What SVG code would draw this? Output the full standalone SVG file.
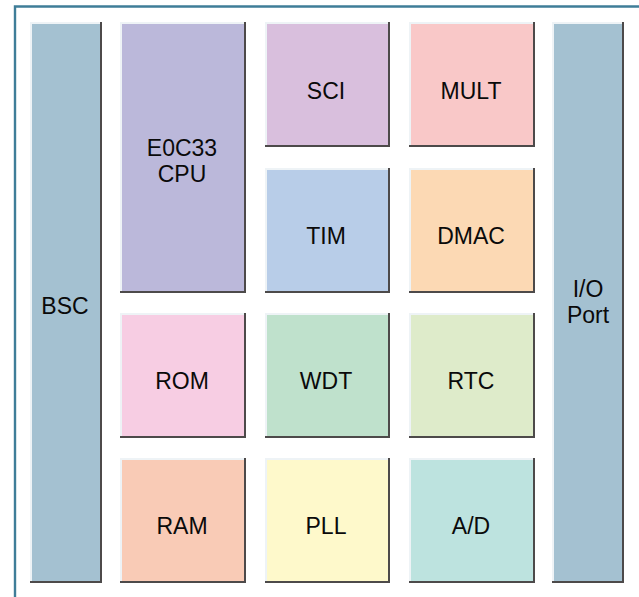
<svg xmlns="http://www.w3.org/2000/svg" width="639" height="597" viewBox="0 0 639 597">
<style>
.t{font-family:"Liberation Sans",Arial,sans-serif;font-size:23px;fill:#0a0a0a;text-anchor:middle}
.hi{fill:none;stroke:#eef3f6;stroke-width:2}
.lo{fill:none;stroke:#4d4a4a;stroke-width:2}
</style>
<rect width="639" height="597" fill="#ffffff"/>
<path d="M15 610 V6.5 H650" fill="none" stroke="#3f7d98" stroke-width="2.4"/>
<g id="connectors"></g>
<g id="BSC">
<rect x="30" y="22" width="72" height="561" fill="#a4c1d1"/>
<path class="hi" d="M31 583 V23 H101"/><path class="lo" d="M101 22 V582 H30"/>
<text class="t" x="65" y="314">BSC</text></g>
<g id="CPU">
<rect x="120" y="22" width="126" height="271" fill="#bbb8da"/>
<path class="hi" d="M121 293 V23 H245"/><path class="lo" d="M245 22 V292 H120"/>
<text class="t" x="182" y="156">E0C33</text><text class="t" x="182" y="182">CPU</text></g>
<g id="SCI">
<rect x="265" y="22" width="125" height="125" fill="#d9bfdd"/>
<path class="hi" d="M266 147 V23 H389"/><path class="lo" d="M389 22 V146 H265"/>
<text class="t" x="326" y="99">SCI</text></g>
<g id="MULT">
<rect x="409" y="22" width="126" height="125" fill="#f9c8c8"/>
<path class="hi" d="M410 147 V23 H534"/><path class="lo" d="M534 22 V146 H409"/>
<text class="t" x="471" y="99">MULT</text></g>
<g id="TIM">
<rect x="265" y="168" width="125" height="125" fill="#b8cde8"/>
<path class="hi" d="M266 293 V169 H389"/><path class="lo" d="M389 168 V292 H265"/>
<text class="t" x="326" y="244">TIM</text></g>
<g id="DMAC">
<rect x="409" y="168" width="126" height="125" fill="#fcd9b4"/>
<path class="hi" d="M410 293 V169 H534"/><path class="lo" d="M534 168 V292 H409"/>
<text class="t" x="471" y="244">DMAC</text></g>
<g id="ROM">
<rect x="120" y="313" width="126" height="125" fill="#f7cde3"/>
<path class="hi" d="M121 438 V314 H245"/><path class="lo" d="M245 313 V437 H120"/>
<text class="t" x="182" y="389">ROM</text></g>
<g id="WDT">
<rect x="265" y="313" width="125" height="125" fill="#bfe1cc"/>
<path class="hi" d="M266 438 V314 H389"/><path class="lo" d="M389 313 V437 H265"/>
<text class="t" x="326" y="389">WDT</text></g>
<g id="RTC">
<rect x="409" y="313" width="126" height="125" fill="#deebca"/>
<path class="hi" d="M410 438 V314 H534"/><path class="lo" d="M534 313 V437 H409"/>
<text class="t" x="471" y="389">RTC</text></g>
<g id="RAM">
<rect x="120" y="458" width="126" height="125" fill="#f9cbb6"/>
<path class="hi" d="M121 583 V459 H245"/><path class="lo" d="M245 458 V582 H120"/>
<text class="t" x="182" y="534">RAM</text></g>
<g id="PLL">
<rect x="265" y="458" width="125" height="125" fill="#fef9cb"/>
<path class="hi" d="M266 583 V459 H389"/><path class="lo" d="M389 458 V582 H265"/>
<text class="t" x="326" y="534">PLL</text></g>
<g id="AD">
<rect x="409" y="458" width="126" height="125" fill="#bde3df"/>
<path class="hi" d="M410 583 V459 H534"/><path class="lo" d="M534 458 V582 H409"/>
<text class="t" x="471" y="534">A/D</text></g>
<g id="IOPort">
<rect x="552" y="22" width="72" height="561" fill="#a4c1d1"/>
<path class="hi" d="M553 583 V23 H623"/><path class="lo" d="M623 22 V582 H552"/>
<text class="t" x="588" y="297">I/O</text><text class="t" x="588" y="323">Port</text></g>
</svg>
